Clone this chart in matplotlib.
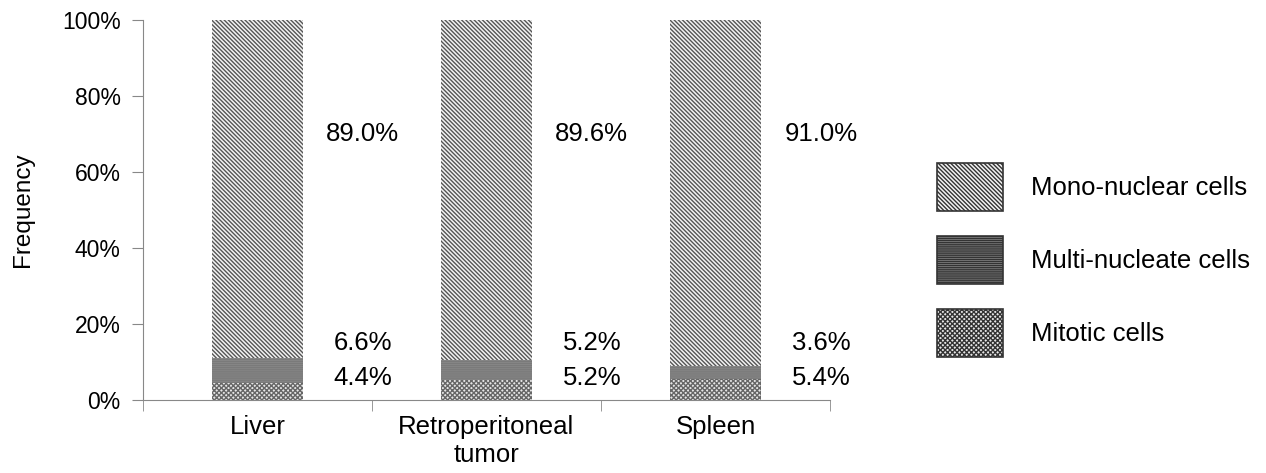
import matplotlib.pyplot as plt
import numpy as np

plt.rcParams['font.family'] = ['Liberation Sans', 'DejaVu Sans']
plt.rcParams['hatch.linewidth'] = 1.0

categories = ['Liver', 'Retroperitoneal\ntumor', 'Spleen']
mitotic = [4.4, 5.2, 5.4]
multi = [6.6, 5.2, 3.6]
mono = [89.0, 89.6, 91.0]

fig = plt.figure(figsize=(12.66, 4.73), dpi=100)
ax = fig.add_axes([143 / 1266, 73 / 473, 687 / 1266, 380 / 473])

x = np.arange(len(categories))
w = 0.4
b1 = ax.bar(x, mitotic, w, color='#e6e6e6', hatch='x' * 7, edgecolor='#666666', linewidth=0)
b2 = ax.bar(x, multi, w, bottom=mitotic, color='#8a8a8a', hatch='-' * 8, edgecolor='#7a7a7a', linewidth=0)
bot = np.array(mitotic) + np.array(multi)
b3 = ax.bar(x, mono, w, bottom=bot, color='#f2f2f2', hatch='\\' * 8, edgecolor='#555555', linewidth=0)

for i in range(len(categories)):
    ax.text(x[i] + 0.46, 70, f'{mono[i]:.1f}%', ha='center', va='center', fontsize=18.5)
    ax.text(x[i] + 0.46, 15, f'{multi[i]:.1f}%', ha='center', va='center', fontsize=18.5)
    ax.text(x[i] + 0.46, 5.8, f'{mitotic[i]:.1f}%', ha='center', va='center', fontsize=18.5)

ax.set_xlim(-0.5, 2.5)
ax.set_ylim(0, 100)
ax.set_yticks(range(0, 101, 20))
ax.set_yticklabels([f'{v}%' for v in range(0, 101, 20)], fontsize=16.5)
ax.set_xticks(x)
ax.set_xticklabels(categories, fontsize=18.5, linespacing=1.2)
ax.set_xticks(np.arange(-0.5, 2.6, 1), minor=True)
ax.tick_params(axis='x', which='major', length=0, pad=11)
ax.tick_params(axis='x', which='minor', length=8, color='#888888')
ax.tick_params(axis='y', length=8, color='#888888', pad=8)
ax.set_ylabel('Frequency', fontsize=17.5, labelpad=20)
for s in ['top', 'right']:
    ax.spines[s].set_visible(False)
for s in ['left', 'bottom']:
    ax.spines[s].set_color('#888888')

fig.legend([b3, b2, b1], ['Mono-nuclear cells', 'Multi-nucleate cells', 'Mitotic cells'],
           loc='center left', bbox_to_anchor=(937 / 1266, 213 / 473), frameon=False, fontsize=18.5,
           handlelength=2.57, handleheight=2.45, labelspacing=1.0, handletextpad=1.1,
           borderpad=0, borderaxespad=0)
for h in fig.legends[0].legend_handles:
    h.set_edgecolor('#333333')
    h.set_linewidth(1.2)

fig.savefig('out.png', dpi=100)
